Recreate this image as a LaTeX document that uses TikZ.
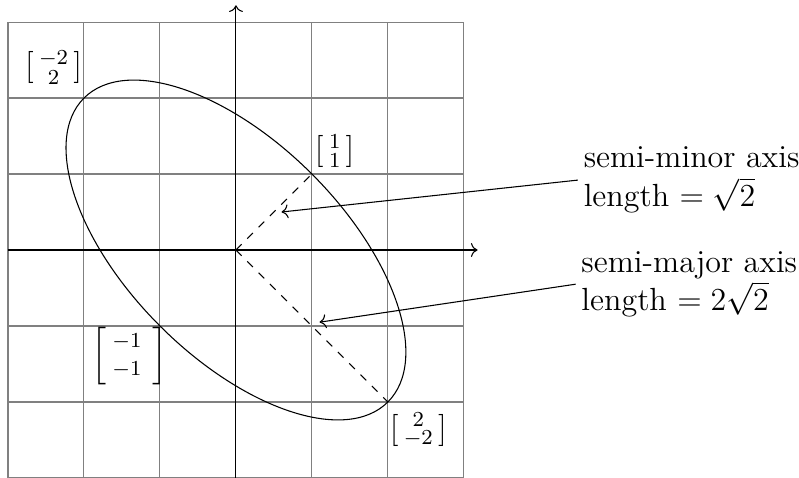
\documentclass[tikz,border=0pt,12pt]{standalone}
\usepackage{amsmath,amssymb}
\usepackage{tikz}
\usetikzlibrary{arrows.meta,positioning}

\begin{document}
\begin{tikzpicture}[
    x=1cm, y=1cm,
    note/.style={align=left, anchor=west, inner sep=2pt}
]
\useasboundingbox (-3.105,-3) rectangle (7.41,3.29);
\draw[gray] (-3,-3) grid (3,3);
\draw[->] (-3,0) -- (3.18,0);
\draw[->] (0,-3) -- (0,3.22);

\coordinate (O) at (0,0);
\coordinate (p11) at (1,1);
\coordinate (p22) at (2,-2);
\coordinate (minormid) at (0.6,0.5);
\coordinate (majormid) at (1.1,-0.95);

\draw[rotate=-45] (O) ellipse (2.828 and 1.414);
\draw[dashed] (O) -- (p11);
\draw[dashed] (O) -- (p22);

% vector labels
\node (lmn) at (-2.4,2.4) {$\left[\begin{smallmatrix}-2\\ 2\end{smallmatrix}\right]$};
\node (l11) at (1.3,1.3) {$\left[\begin{smallmatrix}1\\ 1\end{smallmatrix}\right]$};
\node (lnn) at (-1.4,-1.39) {$\left[\begin{smallmatrix}-1\\[3pt] -1\end{smallmatrix}\,\right]$};
\node (l22) at (2.4,-2.37) {$\left[\begin{smallmatrix}2\\ -2\end{smallmatrix}\right]$};

\node[note] (minor) at (4.5,0.92) {semi-minor axis\\length $=\sqrt{2}$};
\node[note] (major) at (4.47,-0.45) {semi-major axis\\length $=2\sqrt{2}$};

\draw[->] (minor.west) -- (minormid);
\draw[->] (major.west) -- (majormid);
\end{tikzpicture}
\end{document}
